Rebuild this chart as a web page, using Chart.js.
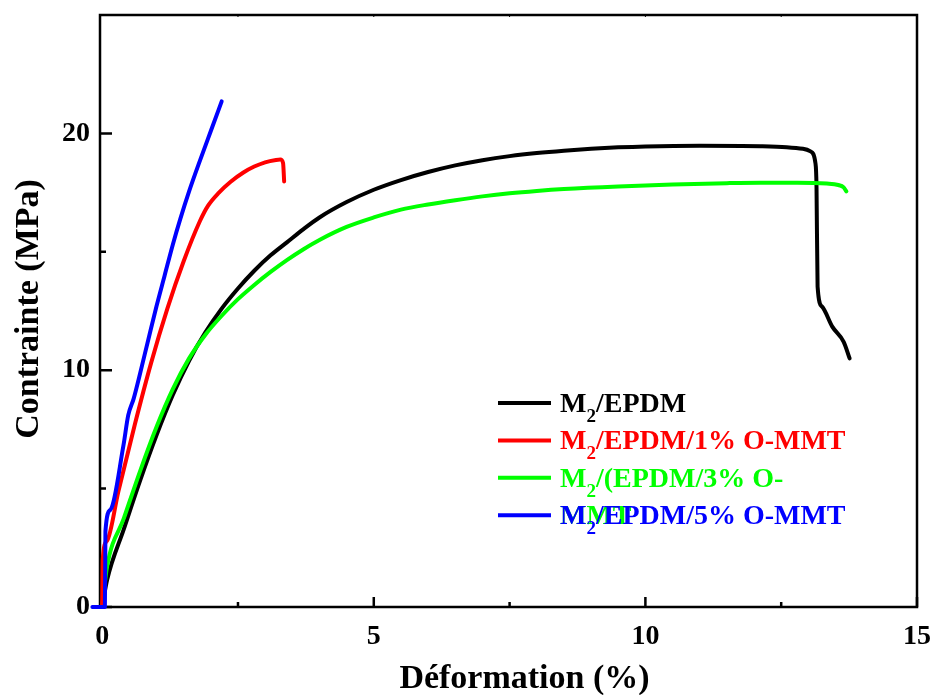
<!DOCTYPE html>
<html>
<head>
<meta charset="utf-8">
<title>Contrainte – Déformation</title>
<script src="https://cdn.jsdelivr.net/npm/chart.js@4/dist/chart.umd.min.js"></script>
<style>
  html, body { margin: 0; padding: 0; background: #ffffff; }
  canvas { display: block; }
</style>
</head>
<body>
<canvas id="stressStrain" width="936" height="695"></canvas>
<script>
// Series names (the "2" after M is drawn as a subscript)
const seriesNames = [
  'M2/EPDM',
  'M2/EPDM/1% O-MMT',
  'M2/(EPDM/3% O-MMT',
  'M2/EPDM/5% O-MMT'
];
const seriesColors = ['#000000', '#ff0000', '#00ff00', '#0000ff'];

// Strain (%) and stress (MPa) for each blend
const epdmX = [0, 0.09, 0.4, 0.7, 1.0, 1.3, 1.6, 1.9, 2.2, 2.5, 2.8, 3.1, 3.4, 3.7, 4.0, 4.5, 5.0, 5.5, 6.0, 6.5, 7.0, 7.5, 8.0, 8.5, 9.0, 9.5, 10.0, 11.0, 12.12, 12.6, 12.9, 13.04, 13.13, 13.15, 13.17, 13.25, 13.44, 13.65, 13.76];
const epdmY = [0, 1.14, 3.3, 5.35, 7.25, 8.95, 10.4, 11.6, 12.6, 13.45, 14.2, 14.85, 15.4, 15.95, 16.45, 17.1, 17.62, 18.03, 18.37, 18.65, 18.87, 19.04, 19.17, 19.27, 19.35, 19.41, 19.45, 19.48, 19.46, 19.42, 19.35, 19.24, 18.75, 17.76, 13.53, 12.69, 11.84, 11.2, 10.5];

const mmt1X = [0, 0.01, 0.09, 0.3, 0.6, 0.9, 1.2, 1.5, 1.8, 1.95, 2.15, 2.36, 2.6, 2.8, 3.0, 3.2, 3.28, 3.33, 3.35];
const mmt1Y = [0, 2.0, 2.8, 4.9, 7.7, 10.3, 12.6, 14.6, 16.3, 16.95, 17.5, 17.95, 18.35, 18.6, 18.78, 18.88, 18.9, 18.75, 17.97];

const mmt3X = [0, 0.09, 0.4, 0.7, 1.0, 1.3, 1.6, 1.9, 2.2, 2.5, 2.8, 3.1, 3.4, 3.7, 4.0, 4.5, 5.0, 5.5, 6.0, 6.5, 7.0, 7.5, 8.0, 8.5, 9.5, 10.5, 11.5, 12.12, 12.8, 13.34, 13.55, 13.65, 13.7];
const mmt3Y = [0, 1.7, 3.75, 5.75, 7.6, 9.2, 10.5, 11.5, 12.3, 13.0, 13.6, 14.15, 14.65, 15.1, 15.5, 16.05, 16.45, 16.78, 17.0, 17.18, 17.34, 17.47, 17.57, 17.65, 17.76, 17.84, 17.9, 17.92, 17.92, 17.88, 17.82, 17.72, 17.55];

const mmt5X = [-0.18, 0.05, 0.06, 0.15, 0.39, 0.48, 0.58, 0.67, 0.85, 1.0, 1.15, 1.3, 1.44, 1.6, 1.8, 2.0, 2.2];
const mmt5Y = [0, 0, 3.2, 4.1, 6.8, 8.1, 8.8, 9.6, 11.3, 12.7, 14.0, 15.3, 16.4, 17.55, 18.85, 20.1, 21.35];

// Axis ticks
const xMajorTicks = [0, 5, 10, 15];
const xMinorTicks = [2.5, 7.5, 12.5];
const yMajorTicks = [0, 10, 20];
const yMinorTicks = [5, 15];

const xTitle = 'Déformation (%)';
const yTitle = 'Contrainte (MPa)';

const SERIF = "'Liberation Serif', 'Times New Roman', Times, serif";

const toPoints = (xs, ys) => xs.map((x, i) => ({ x: x, y: ys[i] }));

// Box around the plot with inward tick marks
const framePlugin = {
  id: 'frame',
  beforeDatasetsDraw(chart) {
    const { ctx, chartArea: a, scales } = chart;
    const xs = scales.x, ys = scales.y;
    ctx.save();
    ctx.strokeStyle = '#000';
    ctx.lineWidth = 2.5;
    ctx.strokeRect(a.left, a.top, a.right - a.left, a.bottom - a.top);
    ctx.beginPath();
    xMajorTicks.forEach(v => { const p = xs.getPixelForValue(v); ctx.moveTo(p, a.bottom); ctx.lineTo(p, a.bottom - 10); });
    xMinorTicks.forEach(v => { const p = xs.getPixelForValue(v); ctx.moveTo(p, a.bottom); ctx.lineTo(p, a.bottom - 5); });
    yMajorTicks.forEach(v => { const p = ys.getPixelForValue(v); ctx.moveTo(a.left, p); ctx.lineTo(a.left + 12, p); });
    yMinorTicks.forEach(v => { const p = ys.getPixelForValue(v); ctx.moveTo(a.left, p); ctx.lineTo(a.left + 6, p); });
    ctx.stroke();
    ctx.lineWidth = 1;
    ctx.beginPath();
    xMajorTicks.concat(xMinorTicks).forEach(v => {
      const p = xs.getPixelForValue(v);
      if (p > a.left + 3 && p < a.right - 3) { ctx.moveTo(p, a.top); ctx.lineTo(p, a.top + 2); }
    });
    ctx.stroke();
    ctx.restore();
  }
};

// Axis titles
const titlePlugin = {
  id: 'axisTitles',
  afterDraw(chart) {
    const { ctx, chartArea: a } = chart;
    ctx.save();
    ctx.fillStyle = '#000';
    ctx.font = 'bold 34px ' + SERIF;
    ctx.textAlign = 'center';
    ctx.textBaseline = 'alphabetic';
    ctx.fillText(xTitle, (a.left + a.right) / 2 + 16, 688);
    ctx.translate(38, (a.top + a.bottom) / 2 - 2);
    ctx.rotate(-Math.PI / 2);
    ctx.fillText(yTitle, 0, 0);
    ctx.restore();
  }
};

// Legend with subscripted "2" and word wrapping inside a fixed width
const legendPlugin = {
  id: 'subscriptLegend',
  afterDraw(chart) {
    const ctx = chart.ctx;
    const lineX0 = 498, lineX1 = 551, textX = 560;
    const rowY0 = 403, rowGap = 37.4, maxWidth = 294;
    const mainFont = 'bold 28px ' + SERIF;
    const subFont = 'bold 19px ' + SERIF;
    ctx.save();
    ctx.textBaseline = 'alphabetic';
    ctx.textAlign = 'left';
    const drawText = (text, x, y, color) => {
      ctx.fillStyle = color;
      let cx = x;
      let rest = text;
      if (text.startsWith('M2')) {
        ctx.font = mainFont;
        ctx.fillText('M', cx, y);
        cx += ctx.measureText('M').width;
        ctx.font = subFont;
        ctx.fillText('2', cx, y + 10);
        cx += ctx.measureText('2').width;
        rest = text.slice(2);
      }
      ctx.font = mainFont;
      ctx.fillText(rest, cx, y);
    };
    const widthOf = (text) => {
      let w = 0, rest = text;
      if (text.startsWith('M2')) {
        ctx.font = mainFont; w += ctx.measureText('M').width;
        ctx.font = subFont; w += ctx.measureText('2').width;
        rest = text.slice(2);
      }
      ctx.font = mainFont;
      return w + ctx.measureText(rest).width;
    };
    seriesNames.forEach((name, i) => {
      const y = rowY0 + i * rowGap;
      const color = seriesColors[i];
      ctx.strokeStyle = color;
      ctx.lineWidth = 4;
      ctx.beginPath();
      ctx.moveTo(lineX0, y);
      ctx.lineTo(lineX1, y);
      ctx.stroke();
      const base = y + 9;
      let lines = [name];
      if (widthOf(name) > maxWidth) {
        for (let k = name.length - 1; k > 0; k--) {
          const ch = name[k - 1];
          if ((ch === '-' || ch === ' ') && widthOf(name.slice(0, k)) <= maxWidth) {
            lines = [name.slice(0, k).trimEnd(), name.slice(k).trimStart()];
            break;
          }
        }
      }
      lines.forEach((ln, j) => drawText(ln, textX, base + j * rowGap, color));
    });
    ctx.restore();
  }
};

const tickFont = { family: SERIF, size: 28, weight: 'bold' };

new Chart(document.getElementById('stressStrain'), {
  type: 'line',
  data: {
    datasets: [
      { label: seriesNames[0], data: toPoints(epdmX, epdmY), borderColor: seriesColors[0], order: 3 },
      { label: seriesNames[1], data: toPoints(mmt1X, mmt1Y), borderColor: seriesColors[1], order: 1 },
      { label: seriesNames[2], data: toPoints(mmt3X, mmt3Y), borderColor: seriesColors[2], order: 2 },
      { label: seriesNames[3], data: toPoints(mmt5X, mmt5Y), borderColor: seriesColors[3], order: 0 }
    ]
  },
  options: {
    responsive: false,
    animation: false,
    devicePixelRatio: 1,
    layout: { padding: { top: 15, right: 19, left: 0, bottom: 0 } },
    datasets: { line: { clip: false } },
    elements: {
      point: { radius: 0, hoverRadius: 0 },
      line: {
        borderWidth: 4,
        cubicInterpolationMode: 'monotone',
        borderCapStyle: 'round',
        borderJoinStyle: 'round',
        fill: false
      }
    },
    plugins: { legend: { display: false }, tooltip: { enabled: false } },
    scales: {
      x: {
        type: 'linear',
        min: -0.04,
        max: 15,
        afterBuildTicks: s => { s.ticks = xMajorTicks.map(v => ({ value: v })); },
        afterFit: s => { s.height = 88; s.paddingLeft = 0; s.paddingRight = 0; },
        grid: { display: false, drawTicks: false },
        border: { display: false },
        ticks: { font: tickFont, color: '#000', padding: 13, maxRotation: 0, autoSkip: false }
      },
      y: {
        type: 'linear',
        min: 0,
        max: 25,
        afterBuildTicks: s => { s.ticks = yMajorTicks.map(v => ({ value: v })); },
        afterFit: s => { s.width = 100; s.paddingTop = 0; s.paddingBottom = 0; },
        grid: { display: false, drawTicks: false },
        border: { display: false },
        ticks: { font: tickFont, color: '#000', padding: 10, autoSkip: false }
      }
    }
  },
  plugins: [framePlugin, titlePlugin, legendPlugin]
});
</script>
</body>
</html>
